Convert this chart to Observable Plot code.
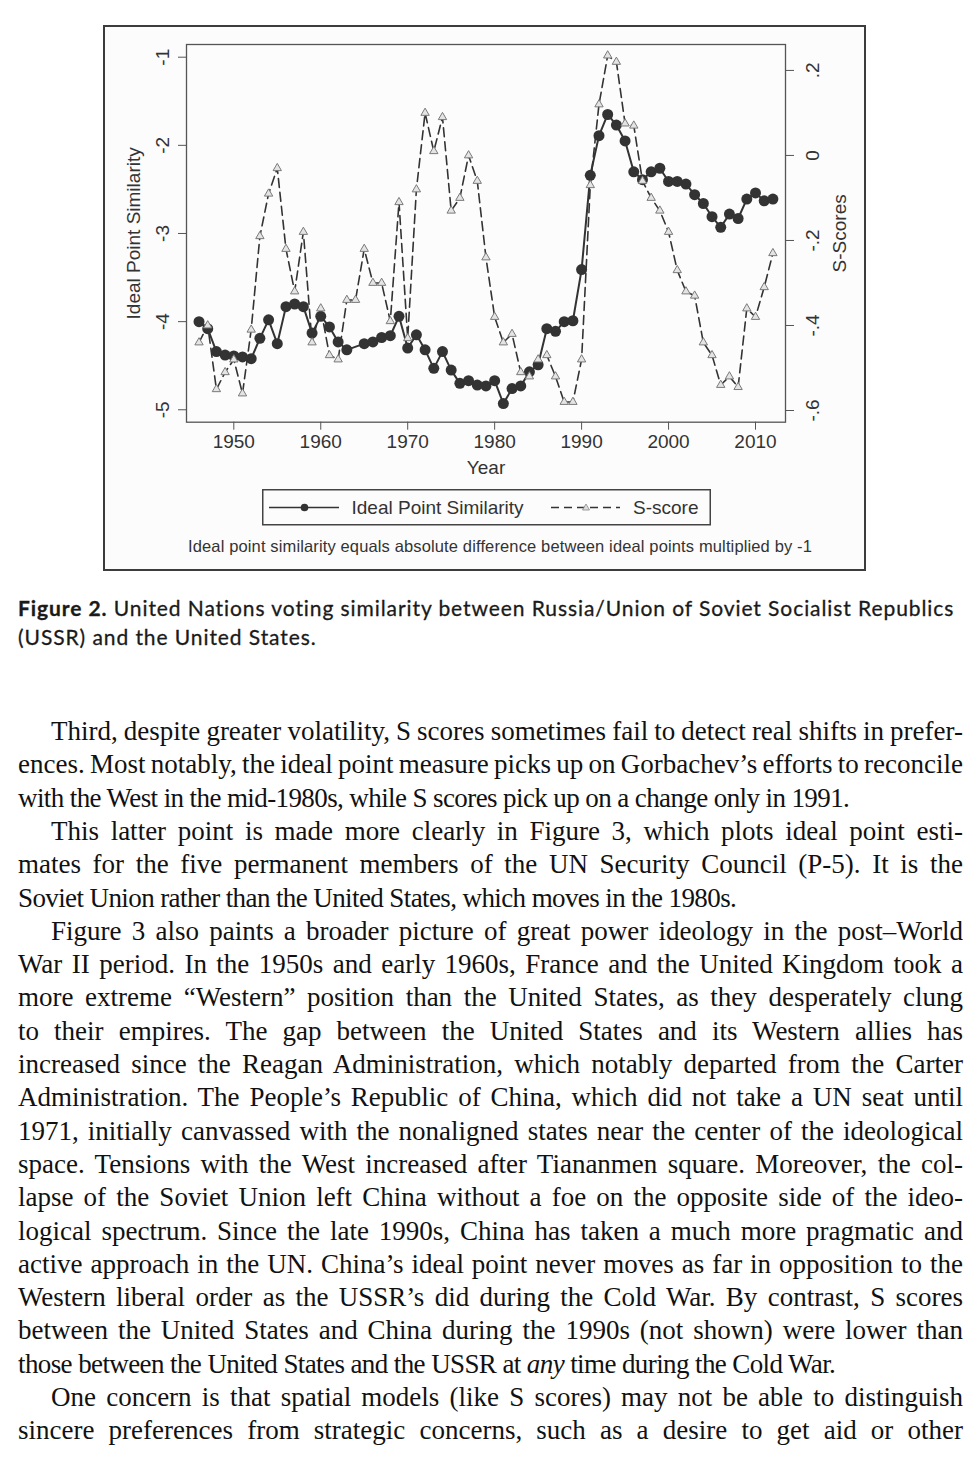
<!DOCTYPE html>
<html><head><meta charset="utf-8">
<script src="https://cdn.jsdelivr.net/npm/d3@7"></script>
<script src="https://cdn.jsdelivr.net/npm/@observablehq/plot@0.6"></script>
<style>
html,body{margin:0;padding:0;background:#fff;}
body{position:relative;width:971px;height:1471px;overflow:hidden;}
#outer{position:absolute;left:103px;top:25px;width:759px;height:542px;border:2px solid #3c3c3c;background:#fcfcfc;}
#chart{position:absolute;left:0;top:0;}
.abs{position:absolute;white-space:nowrap;display:inline-block;}
#note{left:188px;top:535px;font-size:16.5px;font-family:"Liberation Sans",Arial,sans-serif;color:#333;line-height:22px;}
.cap{font-family:Lato,"Noto Sans",sans-serif;font-size:21px;color:#1a1a1a;line-height:29px;-webkit-text-stroke:0.3px #1a1a1a;}
.cap b{font-weight:700;}
.bl{font-family:"Liberation Serif","Times New Roman",serif;font-size:27px;color:#111;line-height:33.3px;}
</style></head><body>
<div id="outer"></div>
<div id="chart"></div>
<div id="legend" class="abs" style="left:262px;top:489px;"></div>
<div id="note" class="abs">Ideal point similarity equals absolute difference between ideal points multiplied by -1</div>
<div id="text"></div>
<script>
// ---------- data ----------
const idealYears = [1946,1947,1948,1949,1950,1951,1952,1953,1954,1955,1956,1957,1958,1959,1960,1961,1962,1963,
  1965,1966,1967,1968,1969,1970,1971,1972,1973,1974,1975,1976,1977,1978,1979,1980,1981,1982,1983,1984,1985,1986,
  1987,1988,1989,1990,1991,1992,1993,1994,1995,1996,1997,1998,1999,2000,2001,2002,2003,2004,2005,2006,2007,2008,
  2009,2010,2011,2012];
const idealValues = [-4.00,-4.08,-4.34,-4.38,-4.39,-4.40,-4.42,-4.19,-3.98,-4.25,-3.83,-3.80,-3.83,-4.13,-3.94,-4.06,-4.23,-4.32,
  -4.25,-4.23,-4.18,-4.16,-3.94,-4.30,-4.15,-4.32,-4.53,-4.34,-4.55,-4.70,-4.67,-4.72,-4.73,-4.67,-4.93,-4.76,-4.73,-4.57,-4.49,-4.08,
  -4.11,-4.00,-3.99,-3.41,-2.34,-1.89,-1.65,-1.77,-1.95,-2.30,-2.39,-2.30,-2.26,-2.41,-2.41,-2.44,-2.56,-2.66,-2.81,-2.93,-2.78,-2.83,
  -2.61,-2.54,-2.63,-2.61];
const sYears = [1946,1947,1948,1949,1950,1951,1952,1953,1954,1955,1956,1957,1958,1959,1960,1961,1962,1963,1964,
  1965,1966,1967,1968,1969,1970,1971,1972,1973,1974,1975,1976,1977,1978,1979,1980,1981,1982,1983,1984,1985,1986,
  1987,1988,1989,1990,1991,1992,1993,1994,1995,1996,1997,1998,1999,2000,2001,2002,2003,2004,2005,2006,2007,2008,
  2009,2010,2011,2012];
const sValues = [-0.44,-0.40,-0.55,-0.51,-0.48,-0.56,-0.41,-0.19,-0.09,-0.03,-0.22,-0.32,-0.18,-0.44,-0.36,-0.47,-0.48,-0.34,-0.34,
  -0.22,-0.30,-0.30,-0.39,-0.11,-0.43,-0.08,0.10,0.01,0.09,-0.13,-0.10,0.00,-0.06,-0.24,-0.38,-0.44,-0.42,-0.51,-0.52,-0.48,-0.47,
  -0.52,-0.58,-0.58,-0.48,-0.07,0.12,0.235,0.22,0.075,0.07,-0.06,-0.10,-0.13,-0.18,-0.27,-0.32,-0.33,-0.44,-0.47,-0.54,-0.52,-0.545,
  -0.36,-0.38,-0.31,-0.23];
const xTicks = [1950,1960,1970,1980,1990,2000,2010];
const leftTicks = [-5,-4,-3,-2,-1];
const leftTickLabels = ["-5","-4","-3","-2","-1"];
const rightTicks = [-0.6,-0.4,-0.2,0,0.2];
const rightTickLabels = ["-.6","-.4","-.2","0",".2"];
const seriesNames = ["Ideal Point Similarity","S-score"];
const axisTitles = {x:"Year", left:"Ideal Point Similarity", right:"S-Scores"};

// ---------- scales ----------
const xDomain = [1944.56, 2013.45];
const yDomain = [-5.141, -0.856];      // left axis at frame bottom/top
const sDomain = [-0.6275, 0.261];      // right axis at frame bottom/top
const toL = s => yDomain[0] + (s - sDomain[0]) * (yDomain[1]-yDomain[0]) / (sDomain[1]-sDomain[0]);

const idealRows = idealYears.map((y,i)=>({year:y, v:idealValues[i]}));
const sRows = sYears.map((y,i)=>({year:y, s:sValues[i]}));

const font = '"Liberation Sans", Arial, sans-serif';
const chart = Plot.plot({
  width: 971, height: 600,
  marginLeft: 186, marginRight: 186, marginTop: 44, marginBottom: 178.3,
  x: {domain: xDomain},
  y: {domain: yDomain},
  style: {fontFamily: font, fontSize: "19px", background: "transparent", color: "#333", overflow: "visible"},
  marks: [
    Plot.frame({stroke: "#555", strokeWidth: 1.3}),
    Plot.axisX(xTicks, {tickSize: 8, tickPadding: 4, tickFormat: d => String(d), label: null, fontSize: 19, stroke: "#555"}),
    Plot.axisY(leftTicks, {anchor: "left", tickSize: 8, tickFormat: () => "", label: null, stroke: "#555"}),
    Plot.axisY(rightTicks.map(toL), {anchor: "right", tickSize: 8, tickFormat: () => "", label: null, stroke: "#555"}),
    Plot.text(leftTicks, {y: d => d, text: (d,i) => leftTickLabels[i], frameAnchor: "left", dx: -24, rotate: -90,
      textAnchor: "middle", lineAnchor: "middle", fontSize: 19, fill: "#333"}),
    Plot.text(rightTicks, {y: d => toL(d), text: (d,i) => rightTickLabels[i], frameAnchor: "right", dx: 27, rotate: -90,
      textAnchor: "middle", lineAnchor: "middle", fontSize: 19, fill: "#333"}),
    Plot.text([axisTitles.left], {text: d => d, frameAnchor: "left", dx: -53, rotate: -90,
      textAnchor: "middle", lineAnchor: "middle", fontSize: 19, fill: "#333"}),
    Plot.text([axisTitles.right], {text: d => d, frameAnchor: "right", dx: 54, rotate: -90,
      textAnchor: "middle", lineAnchor: "middle", fontSize: 19, fill: "#333"}),
    Plot.text([axisTitles.x], {text: d => d, frameAnchor: "bottom", dy: 46,
      textAnchor: "middle", lineAnchor: "middle", fontSize: 19, fill: "#333"}),
    Plot.line(idealRows, {x: "year", y: "v", stroke: "#333", strokeWidth: 2}),
    Plot.dot(idealRows, {x: "year", y: "v", r: 5.5, fill: "#333", stroke: "none"}),
    Plot.line(sRows, {x: "year", y: d => toL(d.s), stroke: "#333", strokeWidth: 1.6, strokeDasharray: "9,5"}),
    Plot.dot(sRows, {x: "year", y: d => toL(d.s), symbol: "triangle", r: 3.1, fill: "#e4e4e4", stroke: "#7a7a7a", strokeWidth: 1})
  ]
});
document.getElementById("chart").appendChild(chart);

// ---------- legend ----------
const lg = document.getElementById("legend");
lg.innerHTML = `<svg width="449" height="37" style="display:block;font-family:${font.replace(/"/g,"'")};font-size:19px">
  <rect x="0.75" y="0.75" width="447.5" height="35" fill="#fcfcfc" stroke="#444" stroke-width="1.5"/>
  <line x1="7" x2="77" y1="18.5" y2="18.5" stroke="#333" stroke-width="1.6"/>
  <circle cx="42.5" cy="18.5" r="3.8" fill="#333"/>
  <text x="89.5" y="18.5" dominant-baseline="central" fill="#333">${seriesNames[0]}</text>
  <line x1="289" x2="358" y1="18.5" y2="18.5" stroke="#333" stroke-width="1.5" stroke-dasharray="8,5"/>
  <path d="M324,15 L327.5,21 L320.5,21 Z" fill="#ddd" stroke="#888" stroke-width="0.8"/>
  <text x="371" y="18.5" dominant-baseline="central" fill="#333">${seriesNames[1]}</text>
</svg>`;

// ---------- text blocks ----------
function fit(el, target){
  el.style.wordSpacing = "0px"; el.style.letterSpacing = "0px";
  const w = el.getBoundingClientRect().width;
  const txt = el.textContent;
  const n = (txt.match(/ /g)||[]).length || 1;
  let ws = (target - w)/n;
  if (ws < -2.5) {
    ws = -2.5;
    const ls = (target - (w + ws*n)) / txt.length;
    el.style.letterSpacing = ls + "px";
  }
  el.style.wordSpacing = ws + "px";
}
function fitLetters(el, target){
  el.style.letterSpacing = "0px";
  const w = el.getBoundingClientRect().width;
  const ls = (target - w)/el.textContent.length;
  el.style.letterSpacing = ls + "px";
  return ls;
}

fitLetters(document.getElementById("note"), 624);

const tbox = document.getElementById("text");
const cap1 = document.createElement("div");
cap1.className = "abs cap"; cap1.style.left = "18px"; cap1.style.top = "593px";
cap1.innerHTML = "<b>Figure 2.</b> United Nations voting similarity between Russia/Union of Soviet Socialist Republics";
tbox.appendChild(cap1);
const cls = fitLetters(cap1, 937);
const cap2 = document.createElement("div");
cap2.className = "abs cap"; cap2.style.left = "18px"; cap2.style.top = "622px";
cap2.style.letterSpacing = cls + "px";
cap2.textContent = "(USSR) and the United States.";
tbox.appendChild(cap2);

// body lines: [html, indent, justified]
const bodyLines = [
 ["Third, despite greater volatility, S scores sometimes fail to detect real shifts in prefer-",1,1],
 ["ences. Most notably, the ideal point measure picks up on Gorbachev\u2019s efforts to reconcile",0,1],
 ["with the West in the mid-1980s, while S scores pick up on a change only in 1991.",0,0],
 ["This latter point is made more clearly in Figure 3, which plots ideal point esti-",1,1],
 ["mates for the five permanent members of the UN Security Council (P-5). It is the",0,1],
 ["Soviet Union rather than the United States, which moves in the 1980s.",0,0],
 ["Figure 3 also paints a broader picture of great power ideology in the post\u2013World",1,1],
 ["War II period. In the 1950s and early 1960s, France and the United Kingdom took a",0,1],
 ["more extreme \u201cWestern\u201d position than the United States, as they desperately clung",0,1],
 ["to their empires. The gap between the United States and its Western allies has",0,1],
 ["increased since the Reagan Administration, which notably departed from the Carter",0,1],
 ["Administration. The People\u2019s Republic of China, which did not take a UN seat until",0,1],
 ["1971, initially canvassed with the nonaligned states near the center of the ideological",0,1],
 ["space. Tensions with the West increased after Tiananmen square. Moreover, the col-",0,1],
 ["lapse of the Soviet Union left China without a foe on the opposite side of the ideo-",0,1],
 ["logical spectrum. Since the late 1990s, China has taken a much more pragmatic and",0,1],
 ["active approach in the UN. China\u2019s ideal point never moves as far in opposition to the",0,1],
 ["Western liberal order as the USSR\u2019s did during the Cold War. By contrast, S scores",0,1],
 ["between the United States and China during the 1990s (not shown) were lower than",0,1],
 ["those between the United States and the USSR at <i>any</i> time during the Cold War.",0,0],
 ["One concern is that spatial models (like S scores) may not be able to distinguish",1,1],
 ["sincere preferences from strategic concerns, such as a desire to get aid or other",0,1]
];
const leftX = 18, rightX = 963, indentX = 51, firstTop = 715, lh = 33.3;
bodyLines.forEach((l,i) => {
  const d = document.createElement("div");
  d.className = "abs bl";
  const x0 = l[1] ? indentX : leftX;
  d.style.left = x0 + "px";
  d.style.top = (firstTop + i*lh) + "px";
  d.innerHTML = l[0];
  tbox.appendChild(d);
  if (l[2]) fit(d, rightX - x0);
  else d.style.letterSpacing = "-0.6px";
});
</script>
</body></html>
